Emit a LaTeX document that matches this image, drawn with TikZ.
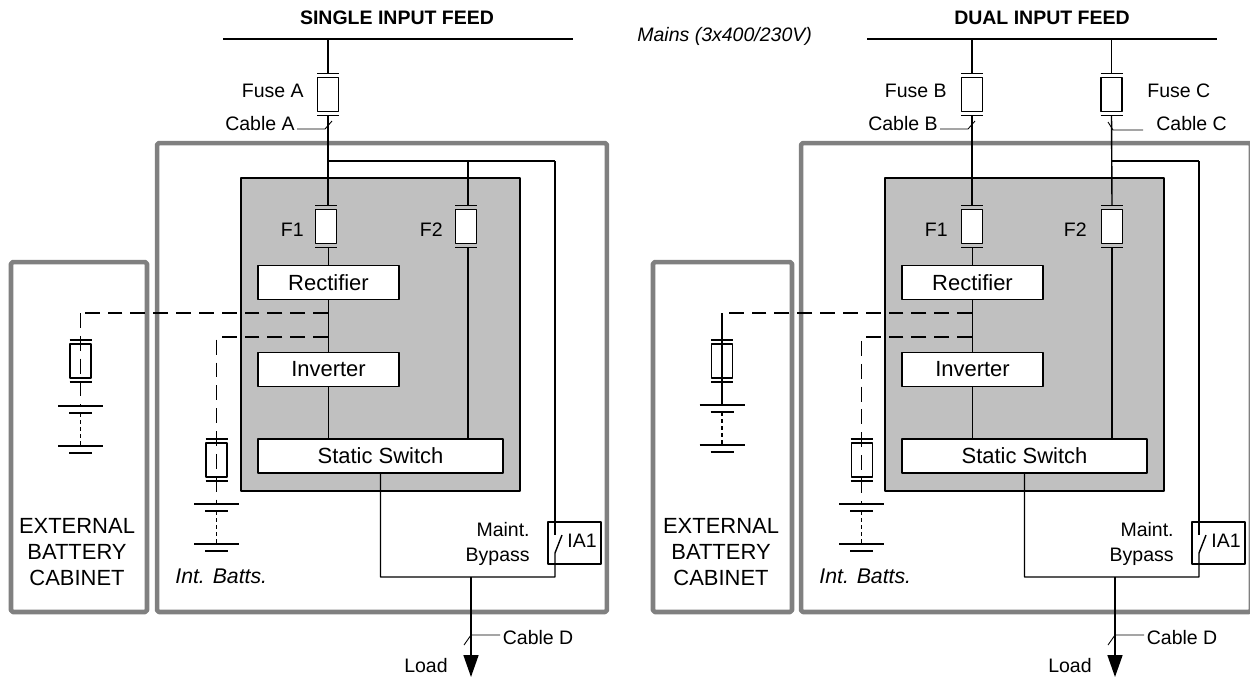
\documentclass[tikz,border=0pt]{standalone}
\usepackage{fontspec}
\setmainfont{Liberation Sans}
\usetikzlibrary{arrows.meta}
\newcommand{\lblfont}{\fontsize{11.1}{14.2}\selectfont}
\newcommand{\boxfont}{\fontsize{12.5}{14.8}\selectfont}
\newcommand{\battfont}{\fontsize{12.1}{14.8}\selectfont}
\definecolor{framegray}{HTML}{808080}
\definecolor{upsgray}{HTML}{C0C0C0}
\tikzset{
	wire/.style={line width=0.8pt},
	thinwire/.style={line width=0.5pt},
	dashwire/.style={line width=0.8pt,dash pattern=on 8.5pt off 4.5pt},
	cellwire/.style={line width=0.75pt,dash pattern=on 2.4pt off 1.6pt},
	frame/.style={draw=framegray,line width=2.6pt,rounded corners=1pt,inner sep=0},
	upsbody/.style={draw,fill=upsgray,line width=0.8pt,inner sep=0},
	unitbox/.style={draw,fill=white,line width=0.8pt,inner sep=0,minimum height=0.68cm,font=\boxfont},
	lbl/.style={inner sep=0,font=\lblfont},
	pics/fuse/.style={code={
		\draw[wire,fill=white] (-10.5,-17) rectangle (10.5,17);
		\draw[wire] (-11,-21)--(11,-21) (-11,21)--(11,21);
		\coordinate (-top) at (0,-21);
		\coordinate (-bot) at (0,21);
	}},
	pics/batt/.style={code={
		\draw[line width=1.4pt] (-22.5,0)--(22.5,0) (-22.5,40)--(22.5,40);
		\draw[line width=1.6pt] (-11.5,7)--(11.5,7) (-11.5,47)--(11.5,47);
		\draw[cellwire] (0,7)--(0,40);
		\coordinate (-top) at (0,0);
	}},
}
\begin{document}
\begin{tikzpicture}[x=0.02cm,y=-0.02cm,line join=round]
	\useasboundingbox (0,0) rectangle (1250,677);
	% the part both feeds share
	\foreach \pn/\dx/\fd/\exl/\exr/\exx/\exy/\inx/\iny/\exs in {L/0/-2/11/147/80.5/406/216.5/504/dashwire,R/644/0/9/148/78/405/217.7/504/wire} {
		\begin{scope}[shift={(\dx,0)},name prefix=\pn]
			\node[frame,minimum width=9cm,minimum height=9.38cm] (outer) at (382,377.5) {};
			\node[frame,minimum width={(\exr-\exl)*0.02cm},minimum height=7cm] (extcab) at ({(\exl+\exr)/2},437) {};
			\node[upsbody,minimum width=5.58cm,minimum height=6.26cm] (body) at (380.5,334.5) {};
			\node[unitbox,minimum width=2.82cm] (rect) at (328.5,282.5) {Rectifier};
			\node[unitbox,minimum width=2.82cm] (inv) at (328.5,369.5) {Inverter};
			\node[unitbox,minimum width=4.9cm] (sw) at (380.5,456) {Static Switch};
			\coordinate (swin) at (468,439);
			\coordinate (swout) at (380.5,473);
			\coordinate (bytop) at (555,161);
			\coordinate (byopen) at (555,535);
			\coordinate (byclose) at (555,553);
			\coordinate (byend) at (555,577);
			\coordinate (loadtop) at (471,577);
			\coordinate (loadtip) at (471,677);
			\coordinate (cabtick) at (464,645);
			\coordinate (cabjoin) at (471,635);
			\pic (F1) at (328+\fd,226.7) {fuse};
			\pic (F2) at (468+\fd,226.7) {fuse};
			\draw[wire] (rect.north)--(rect.north |- F1-bot);
			\draw[wire] (rect)--(inv);
			\draw[wire] (inv.south)--(inv.south |- sw.north);
			\draw[wire] (swin)--(swin |- F2-bot);
			\draw[wire] (swout)--(swout |- byend)--(byend)--(byclose)--(562,535);
			\draw[wire] (bytop)--(byopen);
			\node[draw,line width=0.8pt,inner sep=0,minimum width=1.06cm,minimum height=0.84cm] (ia) at (574.5,543) {};
			\node[lbl,anchor=mid] (ialbl) at (582,543) {IA1};
			\draw[line width=0.9pt,-{Triangle[length=0.44cm,width=0.3cm]}] (loadtop)--(loadtip);
			\node[lbl,anchor=mid west,inner sep=0.05cm] (cabD) at (500,640) {Cable D};
			\draw[thinwire] (cabtick)--(cabjoin)--(cabD.west |- cabjoin);
			\node[lbl,anchor=mid east] (load) at (448,668) {Load};
			\node[lbl,anchor=mid east] (F1lbl) at (304,231.7) {F1};
			\node[lbl,anchor=mid east] (F2lbl) at (443,231.7) {F2};
			\node[lbl,align=right,anchor=east] (maint) at (530,544) {Maint.\\Bypass};
			\node[lbl,font=\boxfont,align=center] (extlbl) at (77,552) {EXTERNAL\\BATTERY\\CABINET};
			\node[lbl,anchor=mid west,font=\battfont\itshape] (intlbl) at (175,579) {Int. Batts.};
			% batteries
			\coordinate (extjoin) at (328,313);
			\coordinate (intjoin) at (328,337);
			\coordinate (extcorner) at (\exx,313);
			\coordinate (intcorner) at (\inx,337);
			\pic (extfuse) at (\exx,360.8) {fuse};
			\pic (intfuse) at (\inx,459.8) {fuse};
			\pic (extbatt) at (\exx,\exy) {batt};
			\pic (intbatt) at (\inx,\iny) {batt};
			\draw[dashwire] (extjoin)--(extcorner);
			\draw[\exs] (extcorner)--(extbatt-top);
			\draw[dashwire] (intjoin)--(intcorner)--(intbatt-top);
		\end{scope}
	}
	% single input feed
	\node[lbl,font=\lblfont\bfseries,anchor=mid] (titleS) at (397,20) {SINGLE INPUT FEED};
	\coordinate (busSw) at (223,39);
	\coordinate (busSe) at (573,39);
	\coordinate (busSa) at (328,39);
	\coordinate (feedS) at (328,161);
	\draw[wire] (busSw)--(busSe);
	\pic (fuseA) at (328,94.7) {fuse};
	\draw[wire] (busSa)--(fuseA-top);
	\draw[wire] (fuseA-bot)--(fuseA-bot |- LF1-top);
	\draw[wire] (feedS)--(Lbytop);
	\draw[wire] (Lswin |- Lbytop)--(Lswin |- LF2-top);
	\node[lbl,anchor=mid east] (fuseAlbl) at (304,92.7) {Fuse A};
	\node[lbl,anchor=mid east] (cabAlbl) at (295,126) {Cable A};
	\draw[thinwire] (297,129)--(325,129)--(332,121);
	% dual input feed
	\node[lbl,font=\lblfont\bfseries,anchor=mid] (titleD) at (1042,20) {DUAL INPUT FEED};
	\coordinate (busDw) at (867,39);
	\coordinate (busDe) at (1217,39);
	\coordinate (busDb) at (972,39);
	\coordinate (busDc) at (1111.5,39);
	\coordinate (feedD) at (1111.5,161);
	\draw[wire] (busDw)--(busDe);
	\pic (fuseB) at (972,94.7) {fuse};
	\pic (fuseC) at (1111.5,94.7) {fuse};
	\draw[wire] (busDb)--(fuseB-top);
	\draw[wire] (busDc)--(fuseC-top);
	\draw[wire] (fuseB-bot)--(RF1-top);
	\draw[wire] (fuseC-bot)--(RF2-top);
	\draw[wire] (feedD)--(Rbytop);
	\node[lbl,anchor=mid east] (fuseBlbl) at (947,92.7) {Fuse B};
	\node[lbl,anchor=mid east] (cabBlbl) at (938,126) {Cable B};
	\draw[thinwire] (940,129)--(968,129)--(975,121);
	\node[lbl,anchor=mid west] (fuseClbl) at (1147,92.7) {Fuse C};
	\node[lbl,anchor=mid west] (cabClbl) at (1156,126) {Cable C};
	\draw[thinwire] (1143,130)--(1113,130)--(1108,122);
	\node[lbl,anchor=mid west,font=\lblfont\itshape] (mains) at (637,36.7) {Mains (3x400/230V)};
\end{tikzpicture}
\end{document}
